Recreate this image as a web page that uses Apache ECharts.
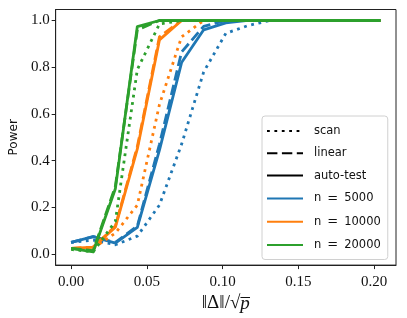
<!DOCTYPE html>
<html><head><meta charset="utf-8">
<script src="https://cdn.jsdelivr.net/npm/echarts@6/dist/echarts.min.js"></script>
<style>html,body{margin:0;padding:0;background:#fff}#c{width:407px;height:318px}</style>
</head><body><div id="c"></div>
<script>
const xValues = [0, 0.0146, 0.0292, 0.0437, 0.0583, 0.0729, 0.0875, 0.1021, 0.1167, 0.1312, 0.1458, 0.1604, 0.1750, 0.1896, 0.2042];
const blueScan   = [0.05, 0.06, 0.04, 0.077, 0.21, 0.47, 0.78, 0.945, 0.978, 1, 1, 1, 1, 1, 1];
const blueLinear = [0.05, 0.075, 0.05, 0.12, 0.47, 0.865, 0.975, 1, 1, 1, 1, 1, 1, 1, 1];
const blueAuto   = [0.05, 0.075, 0.047, 0.114, 0.445, 0.82, 0.96, 0.99, 1, 1, 1, 1, 1, 1, 1];
const orangeScan   = [0.025, 0.025, 0.09, 0.21, 0.64, 0.93, 1, 1, 1, 1, 1, 1, 1, 1, 1];
const orangeLinear = [0.025, 0.03, 0.12, 0.46, 0.93, 1, 1, 1, 1, 1, 1, 1, 1, 1, 1];
const orangeAuto   = [0.025, 0.03, 0.115, 0.45, 0.917, 1, 1, 1, 1, 1, 1, 1, 1, 1, 1];
const greenScan   = [0.02, 0.01, 0.14, 0.79, 0.985, 1, 1, 1, 1, 1, 1, 1, 1, 1, 1];
const greenLinear = [0.025, 0.015, 0.29, 0.96, 1, 1, 1, 1, 1, 1, 1, 1, 1, 1, 1];
const greenAuto   = [0.025, 0.01, 0.28, 0.974, 1, 1, 1, 1, 1, 1, 1, 1, 1, 1, 1];
const xTicks = [0, 0.05, 0.10, 0.15, 0.20];
const yTicks = [0, 0.2, 0.4, 0.6, 0.8, 1.0];
const legendNames = ['scan', 'linear', 'auto-test', 'n = 5000', 'n = 10000', 'n = 20000'];

const C = {blue: '#1f77b4', orange: '#ff7f0e', green: '#2ca02c'};
const LW = 2.8;
const DOT = [LW, 4.6];
const DASH = [10.4, 4.5];
const styleOf = {scan: DOT, linear: DASH, auto: 'solid'};

function pairs(ys) { return xValues.map((x, i) => [x, ys[i]]); }
function mk(name, ys, color, kind) {
  return {
    name: name, type: 'line', data: pairs(ys), symbol: 'none', silent: true,
    lineStyle: {color: color, width: LW, type: styleOf[kind], cap: 'butt', join: 'round'},
    z: 2, animation: false
  };
}
const series = [
  mk('b-scan', blueScan, C.blue, 'scan'),
  mk('b-lin', blueLinear, C.blue, 'linear'),
  mk('b-auto', blueAuto, C.blue, 'auto'),
  mk('o-scan', orangeScan, C.orange, 'scan'),
  mk('o-lin', orangeLinear, C.orange, 'linear'),
  mk('o-auto', orangeAuto, C.orange, 'auto'),
  mk('g-scan', greenScan, C.green, 'scan'),
  mk('g-lin', greenLinear, C.green, 'linear'),
  mk('g-auto', greenAuto, C.green, 'auto')
];
const legendStyles = [
  ['#000', DOT], ['#000', DASH], ['#000', 'solid'],
  [C.blue, 'solid'], [C.orange, 'solid'], [C.green, 'solid']
];
legendNames.forEach((n, i) => {
  series.push({name: n, type: 'line', data: [], symbol: 'none', animation: false,
    lineStyle: {color: legendStyles[i][0], width: LW, type: legendStyles[i][1], cap: 'butt'},
    itemStyle: {color: legendStyles[i][0]}});
});

const chart = echarts.init(document.getElementById('c'), null, {renderer: 'canvas'});
const tickFont = {fontFamily: 'Liberation Serif', fontSize: 15, color: '#111'};
chart.setOption({
  animation: false,
  grid: {left: 52, right: 11, top: 9.5, bottom: 52, show: true, borderColor: '#222', borderWidth: 1, backgroundColor: 'transparent'},
  legend: {
    data: legendNames, orient: 'vertical', left: 262, top: 116,
    itemWidth: 36, itemHeight: 11, itemGap: 10.3, padding: [9, 7, 8, 4],
    itemStyle: {opacity: 0},
    backgroundColor: 'rgba(255,255,255,0.85)', borderColor: '#d0d0d0', borderWidth: 1, borderRadius: 3,
    formatter: function (name) {
      const m = name.match(/^n = (\d+)$/);
      return m ? '{t|n}{e|=}{t|' + m[1] + '}' : '{t|' + name + '}';
    },
    textStyle: {fontFamily: 'DejaVu Sans', fontSize: 11.5, color: '#111', padding: [0, 0, 0, 6],
      rich: {
        t: {fontFamily: 'DejaVu Sans', fontSize: 11.5, color: '#111'},
        e: {fontFamily: 'DejaVu Sans', fontSize: 13, color: '#111', padding: [0, 6, 0, 6]}
      }},
    selectedMode: false, z: 10
  },
  xAxis: {
    type: 'value', min: -0.0102, max: 0.2144,
    splitLine: {show: false},
    axisLine: {show: true, onZero: false, lineStyle: {color: '#222', width: 1}},
    axisTick: {show: true, length: 4, inside: false, customValues: xTicks, lineStyle: {color: '#222'}},
    axisLabel: Object.assign({customValues: xTicks, margin: 9, formatter: v => v.toFixed(2)}, tickFont),
    name: '{a|‖Δ‖/√}{b|p̅}', nameLocation: 'middle', nameGap: 26,
    nameTextStyle: {rich: {
      a: {fontFamily: 'Liberation Serif', fontSize: 19, color: '#111'},
      b: {fontFamily: 'Liberation Serif', fontSize: 19, fontStyle: 'italic', color: '#111'}
    }}
  },
  yAxis: {
    type: 'value', min: -0.047, max: 1.047,
    splitLine: {show: false},
    axisLine: {show: true, onZero: false, lineStyle: {color: '#222', width: 1}},
    axisTick: {show: true, length: 4, inside: false, customValues: yTicks, lineStyle: {color: '#222'}},
    axisLabel: Object.assign({customValues: yTicks, margin: 6, formatter: v => v.toFixed(1)}, tickFont),
    name: 'Power', nameLocation: 'middle', nameGap: 33,
    nameTextStyle: {fontFamily: 'DejaVu Sans', fontSize: 12, color: '#111'}
  },
  series: series
});
</script></body></html>
